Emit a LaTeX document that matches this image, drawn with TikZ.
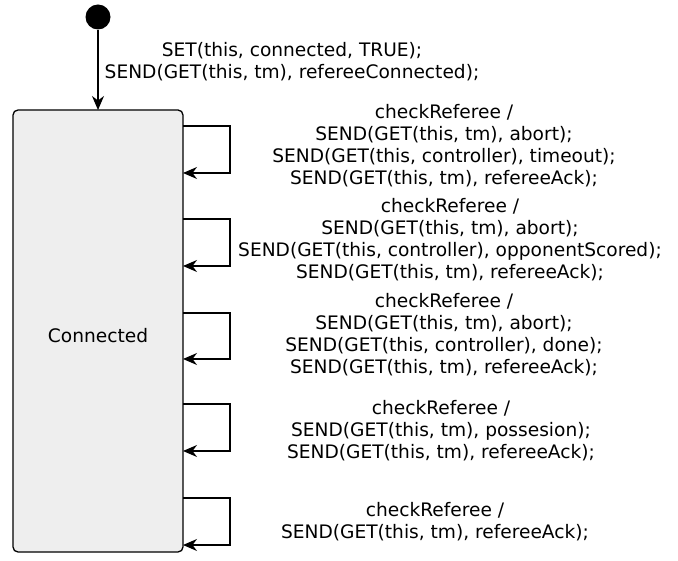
\documentclass[tikz,border=0pt]{standalone}
\usepackage{fontspec}
\setmainfont{DejaVu Sans}
\usetikzlibrary{arrows.meta}
\definecolor{statefill}{HTML}{EEEEEE}
\begin{document}
\begin{tikzpicture}[x=1pt,y=-1pt,
  line width=1.4pt,
  arr/.style={-{Stealth[length=14pt,width=12pt,inset=4.5pt]}},
  lbl/.style={align=center,font=\fontsize{18.6}{22}\selectfont,inner sep=0pt},
  statebox/.style={draw,fill=statefill,rounded corners=5pt,line width=1.3pt}]
\useasboundingbox (0,0) rectangle (678,561);
% initial pseudo-state
\node[circle,fill=black,minimum size=25pt,inner sep=0pt] (init) at (98,17) {};
% the state
\draw[statebox] (13,110) rectangle (183,552);
\node[lbl] (conn) at (98,336) {Connected};
\coordinate (top) at (98,110);
\draw[arr] (init) -- (top);
\node[lbl] (entry) at (292,62) {SET(this, connected, TRUE);\\SEND(GET(this, tm), refereeConnected);};
% self transitions
\foreach \n/\ya/\yb in {1/126/173,2/219/266,3/313/359,4/404/451,5/498/545}{
  \coordinate (s\n) at (183,\ya);
  \coordinate (e\n) at (183,\yb);
  \draw[arr] (s\n) -- (230,\ya) -- (230,\yb) -- (e\n);
}
\node[lbl] (t1) at (444,146) {checkReferee /\\SEND(GET(this, tm), abort);\\SEND(GET(this, controller), timeout);\\SEND(GET(this, tm), refereeAck);};
\node[lbl] (t2) at (450,240) {checkReferee /\\SEND(GET(this, tm), abort);\\SEND(GET(this, controller), opponentScored);\\SEND(GET(this, tm), refereeAck);};
\node[lbl] (t3) at (444,335) {checkReferee /\\SEND(GET(this, tm), abort);\\SEND(GET(this, controller), done);\\SEND(GET(this, tm), refereeAck);};
\node[lbl] (t4) at (441,431) {checkReferee /\\SEND(GET(this, tm), possesion);\\SEND(GET(this, tm), refereeAck);};
\node[lbl] (t5) at (435,522) {checkReferee /\\SEND(GET(this, tm), refereeAck);};
\end{tikzpicture}
\end{document}
